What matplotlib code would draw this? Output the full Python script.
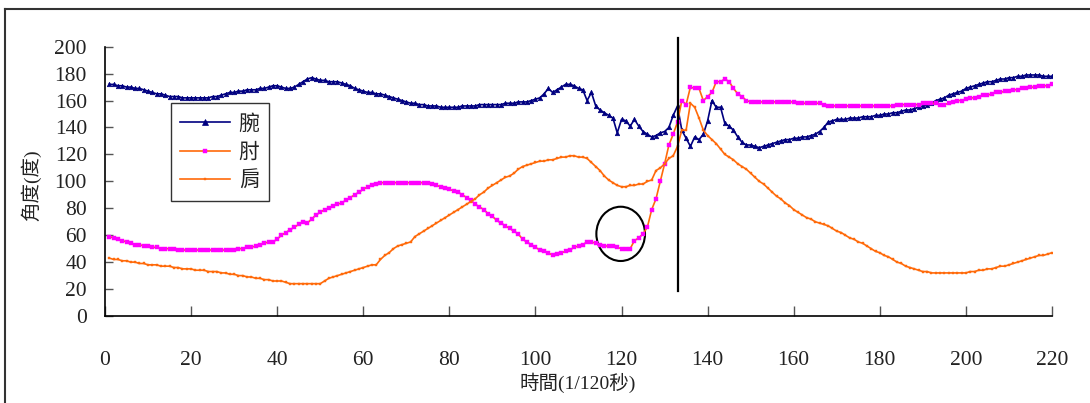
import numpy as np
import matplotlib
matplotlib.use("Agg")
import matplotlib.pyplot as plt
from matplotlib.patches import Ellipse
from matplotlib.lines import Line2D

plt.rcParams['font.family'] = ['Liberation Serif', 'Noto Sans CJK TC']

frames = np.arange(1, 221)

wrist = [
    172, 172, 171, 171, 170, 170, 169, 169, 168, 167,
    166, 165, 165, 164, 163, 163, 163, 162, 162, 162,
    162, 162, 162, 162, 163, 163, 164, 165, 166, 166,
    167, 167, 168, 168, 168, 169, 169, 170, 171, 171,
    170, 169, 169, 170, 172, 174, 176, 177, 176, 175,
    175, 174, 174, 174, 173, 172, 171, 169, 168, 167,
    166, 166, 165, 165, 164, 163, 162, 161, 160, 159,
    158, 158, 157, 157, 156, 156, 156, 155, 155, 155,
    155, 155, 156, 156, 156, 156, 157, 157, 157, 157,
    157, 157, 158, 158, 158, 159, 159, 159, 160, 161,
    162, 165, 169, 166, 168, 170, 172, 172, 171, 169,
    168, 160, 166, 156, 153, 151, 149, 147, 136, 146,
    145, 141, 146, 141, 137, 135, 133, 134, 136, 137,
    140, 149, 156, 138, 132, 126, 133, 131, 135, 145,
    160, 155, 155, 143, 141, 138, 133, 129, 127, 127,
    126, 125, 126, 127, 128, 129, 130, 131, 131, 132,
    132, 133, 133, 134, 135, 137, 140, 144, 145, 146,
    146, 146, 147, 147, 147, 148, 148, 148, 149, 149,
    150, 150, 151, 151, 152, 153, 153, 154, 155, 156,
    157, 158, 160, 161, 162, 164, 165, 166, 167, 169,
    170, 171, 172, 173, 174, 174, 175, 176, 176, 177,
    177, 178, 178, 179, 179, 179, 179, 178, 178, 178,
]

elbow = [
    59, 58, 57, 56, 55, 54, 53, 53, 52, 52,
    51, 51, 50, 50, 50, 50, 49, 49, 49, 49,
    49, 49, 49, 49, 49, 49, 49, 49, 49, 49,
    50, 50, 51, 51, 52, 53, 54, 55, 55, 57,
    60, 62, 64, 66, 68, 70, 69, 72, 75, 77,
    79, 80, 82, 83, 84, 86, 88, 90, 92, 94,
    96, 97, 98, 99, 99, 99, 99, 99, 99, 99,
    99, 99, 99, 99, 99, 98, 97, 96, 95, 94,
    93, 92, 90, 88, 86, 83, 81, 79, 76, 74,
    71, 69, 67, 65, 63, 61, 57, 55, 53, 51,
    49, 48, 47, 45, 46, 47, 48, 49, 51, 52,
    53, 55, 55, 54, 53, 52, 52, 52, 51, 50,
    50, 50, 56, 58, 61, 66, 79, 87, 100, 113,
    127, 135, 144, 160, 157, 170, 169, 169, 160, 163,
    166, 174, 174, 176, 174, 169, 165, 163, 160, 159,
    159, 159, 159, 159, 159, 159, 159, 159, 159, 159,
    158, 158, 158, 158, 158, 158, 157, 156, 156, 156,
    156, 156, 156, 156, 156, 156, 156, 156, 156, 156,
    156, 156, 156, 157, 157, 157, 157, 157, 157, 158,
    158, 158, 158, 157, 157, 158, 159, 160, 160, 161,
    162, 162, 163, 164, 164, 165, 166, 166, 167, 167,
    168, 168, 169, 169, 170, 170, 171, 171, 171, 172,
]

shoulder = [
    43, 42, 42, 41, 41, 40, 40, 39, 39, 38,
    38, 38, 37, 37, 37, 36, 36, 35, 35, 35,
    34, 34, 34, 33, 33, 33, 32, 32, 31, 31,
    30, 30, 29, 29, 28, 28, 27, 27, 26, 26,
    26, 25, 24, 24, 24, 24, 24, 24, 24, 24,
    26, 28, 29, 30, 31, 32, 33, 34, 35, 36,
    37, 38, 38, 42, 45, 47, 50, 52, 53, 54,
    55, 59, 61, 63, 65, 67, 69, 71, 73, 75,
    77, 79, 81, 83, 85, 87, 90, 92, 95, 97,
    99, 101, 103, 104, 106, 109, 111, 112, 113, 114,
    115, 115, 116, 116, 117, 118, 118, 119, 119, 118,
    118, 117, 114, 111, 108, 104, 101, 99, 97, 96,
    96, 97, 97, 98, 98, 100, 101, 108, 110, 113,
    117, 119, 126, 138, 138, 158, 155, 147, 138, 134,
    131, 128, 124, 120, 118, 116, 113, 111, 109, 106,
    103, 100, 98, 95, 92, 89, 87, 84, 82, 79,
    77, 75, 73, 72, 70, 69, 68, 67, 65, 63,
    62, 60, 58, 57, 55, 54, 52, 50, 48, 47,
    45, 44, 42, 40, 39, 37, 36, 35, 34, 33,
    33, 32, 32, 32, 32, 32, 32, 32, 32, 32,
    33, 33, 34, 34, 35, 35, 36, 37, 37, 38,
    39, 40, 41, 42, 43, 44, 45, 45, 46, 47,
]

impact_frame = 133
navy = '#000080'
orange = '#FF6A0A'
magenta = '#FF00FF'

fig = plt.figure(figsize=(10.9, 4.03), dpi=100)
ax = fig.add_axes([105 / 1090, 1 - 316 / 403, 947 / 1090, 269.3 / 403])

ax.plot(frames, wrist, color=navy, lw=1.2, marker='^', ms=3.2,
        mfc=navy, mec=navy, mew=0.5, label='腕')
ax.plot(frames, elbow, color=orange, lw=1.2, marker='s', ms=2.4,
        mfc=magenta, mec=magenta, mew=0.3, label='肘')
ax.plot(frames, shoulder, color=orange, lw=1.2, marker='s', ms=1.7,
        mfc=orange, mec=orange, mew=0.3, label='肩')

# 撞擊瞬間的垂直線與標示的圓圈
ax.plot([impact_frame, impact_frame], [18.6, 206.5], color='black', lw=1.6,
        clip_on=False)
ax.add_patch(Ellipse((119.8, 61), 11.3, 40.3, fill=False, ec='black', lw=1.5))

ax.set_xlim(0, 220)
ax.set_ylim(0, 200)
ax.set_xticks(np.arange(0, 221, 20))
ax.set_yticks(np.arange(0, 201, 20))
for s in ('top', 'right'):
    ax.spines[s].set_visible(False)
for s in ('left', 'bottom'):
    ax.spines[s].set_linewidth(1.2)
ax.tick_params(axis='x', direction='in', length=7, width=1, color='#555555',
               pad=25, labelsize=15.5)
ax.tick_params(axis='y', direction='in', length=6, width=1, color='#555555',
               pad=13, labelsize=15.5)
for lab in ax.get_xticklabels() + ax.get_yticklabels():
    lab.set_color('#222222')

fig.text(578 / 1090, 1 - 383 / 403, '時間(1/120秒)', ha='center', va='center',
         fontsize=14, color='#222222')
fig.text(31 / 1090, 1 - 185 / 403, '角度(度)', ha='center', va='center',
         rotation=90, fontsize=14, color='#222222')

leg = ax.legend(loc='upper left', bbox_to_anchor=(171 / 1090, 1 - 103 / 403),
                bbox_transform=fig.transFigure, borderaxespad=0,
                fancybox=False, shadow=False, edgecolor='black',
                prop={'family': ['Noto Sans CJK TC'], 'size': 15},
                handlelength=2.4, handletextpad=0.4, labelspacing=0.32,
                borderpad=0.45, markerscale=1.2)
leg.get_frame().set_linewidth(1.0)
for t in leg.get_texts():
    t.set_color('#222222')

# 外框（只有上緣與左緣露出）
fig.add_artist(Line2D([5 / 1090, 1], [1 - 9 / 403, 1 - 9 / 403],
                      color='#333333', lw=1.5, transform=fig.transFigure))
fig.add_artist(Line2D([5 / 1090, 5 / 1090], [0, 1 - 9 / 403],
                      color='#333333', lw=1.5, transform=fig.transFigure))

fig.savefig('out.png', dpi=100)
